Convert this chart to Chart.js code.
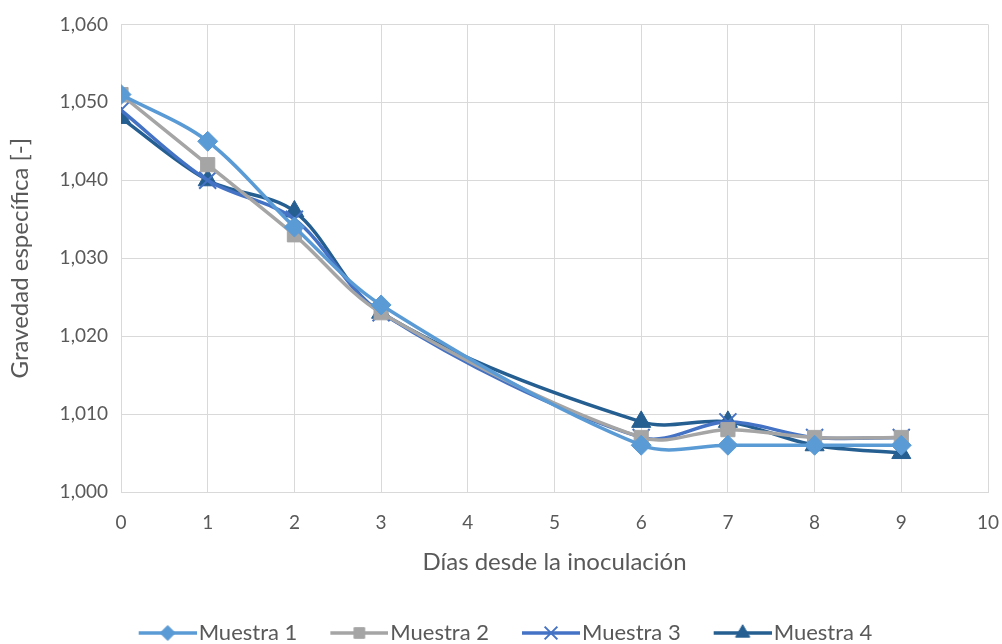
<!DOCTYPE html>
<html>
<head>
<meta charset="utf-8">
<script src="https://cdn.jsdelivr.net/npm/chart.js@4/dist/chart.umd.min.js"></script>
<style>
  html, body { margin: 0; padding: 0; background: #fff; }
  #wrap { width: 1002px; height: 644px; position: relative; }
</style>
</head>
<body>
<div id="wrap"><canvas id="c"></canvas></div>
<script>
// Days after inoculation and specific gravity readings for each sample
const days = [0, 1, 2, 3, 6, 7, 8, 9];
const muestra1 = [1.051, 1.045, 1.034, 1.024, 1.006, 1.006, 1.006, 1.006];
const muestra2 = [1.051, 1.042, 1.033, 1.023, 1.007, 1.008, 1.007, 1.007];
const muestra3 = [1.049, 1.040, 1.035, 1.023, 1.007, 1.009, 1.007, 1.007];
const muestra4 = [1.048, 1.040, 1.036, 1.023, 1.009, 1.009, 1.006, 1.005];
const seriesNames = ['Muestra 1', 'Muestra 2', 'Muestra 3', 'Muestra 4'];
const xTitle = 'Días desde la inoculación';
const yTitle = 'Gravedad específica [-]';

const FONT = 'Lato, "Liberation Sans", sans-serif';
const TEXT = '#595959';

const styles = [
  { color: '#5B9BD5', point: 'rectRot', r: 10 },
  { color: '#A5A5A5', point: 'rect', r: 10 },
  { color: '#4472C4', point: 'crossRot', r: 12 },
  { color: '#255E91', point: 'triangle', r: 11 }
];

const allSeries = [muestra1, muestra2, muestra3, muestra4];

// Legend symbol: a short line with the series marker in its middle.
// The box is wider than the symbol so the gap before the text stays small.
const LEG_BOX = 72, LEG_LINE = 58, LEG_GAP = 2, LEG_FONT = 22;
function legendSwatch(st) {
  const w = LEG_BOX + 2 * (LEG_FONT / 2 - LEG_GAP), h = 24;
  const cv = document.createElement('canvas');
  cv.width = w; cv.height = h;
  const g = cv.getContext('2d');
  const x0 = w - LEG_LINE, xm = x0 + LEG_LINE / 2;
  g.strokeStyle = st.color;
  g.lineWidth = 3.5;
  g.beginPath(); g.moveTo(x0, h / 2); g.lineTo(w, h / 2); g.stroke();
  g.fillStyle = st.color;
  const bw = st.point === 'crossRot' ? 2 : 1;
  g.lineWidth = bw;
  Chart.helpers.drawPoint(g, { pointStyle: st.point, radius: st.r * 0.75, borderWidth: bw }, xm, h / 2);
  return cv;
}

const datasets = allSeries.map((vals, i) => ({
  label: seriesNames[i],
  data: days.map((d, k) => ({ x: d, y: vals[k] })),
  borderColor: styles[i].color,
  backgroundColor: styles[i].color,
  borderWidth: 3.5,
  tension: 0.33,
  pointStyle: styles[i].point,
  pointRadius: styles[i].r,
  pointBorderWidth: styles[i].point === 'crossRot' ? 2 : 1,
  pointBackgroundColor: styles[i].color,
  pointBorderColor: styles[i].color,
  fill: false
}));

const fmt = v => v.toFixed(3).replace('.', ',');

new Chart(document.getElementById('c'), {
  type: 'line',
  data: { datasets },
  options: {
    responsive: true,
    maintainAspectRatio: false,
    animation: false,
    layout: { padding: { left: 0, right: 14, top: 21, bottom: -10 } },
    plugins: {
      tooltip: { enabled: false },
      legend: {
        position: 'bottom',
        labels: {
          font: { family: FONT, size: LEG_FONT },
          color: TEXT,
          usePointStyle: true,
          pointStyleWidth: LEG_BOX,
          padding: 10,
          generateLabels: chart => chart.data.datasets.map((ds, i) => ({
            text: ds.label,
            pointStyle: legendSwatch(styles[i]),
            fontColor: TEXT,
            datasetIndex: i,
            hidden: false,
            lineWidth: 0
          }))
        }
      }
    },
    scales: {
      x: {
        type: 'linear',
        min: 0, max: 10,
        ticks: { stepSize: 1, color: TEXT, font: { family: FONT, size: 19 }, padding: 19 },
        grid: { color: '#D9D9D9', lineWidth: 1, drawTicks: false },
        border: { color: '#D9D9D9' },
        title: { display: true, text: xTitle, color: TEXT, font: { family: FONT, size: 24 }, padding: { top: 0, bottom: 35 } },
        afterFit: s => { s.height = 120; s.paddingLeft = 0; s.paddingRight = 0; }
      },
      y: {
        min: 1.000, max: 1.060,
        ticks: { stepSize: 0.010, color: TEXT, font: { family: FONT, size: 19 }, padding: 13, callback: v => fmt(v) },
        grid: { color: '#D9D9D9', lineWidth: 1, drawTicks: false },
        border: { color: '#D9D9D9' },
        title: { display: true, text: yTitle, color: TEXT, font: { family: FONT, size: 24 }, padding: { top: 6, bottom: 0 } },
        afterFit: s => { s.width = 121; }
      }
    }
  }
});
</script>
</body>
</html>
